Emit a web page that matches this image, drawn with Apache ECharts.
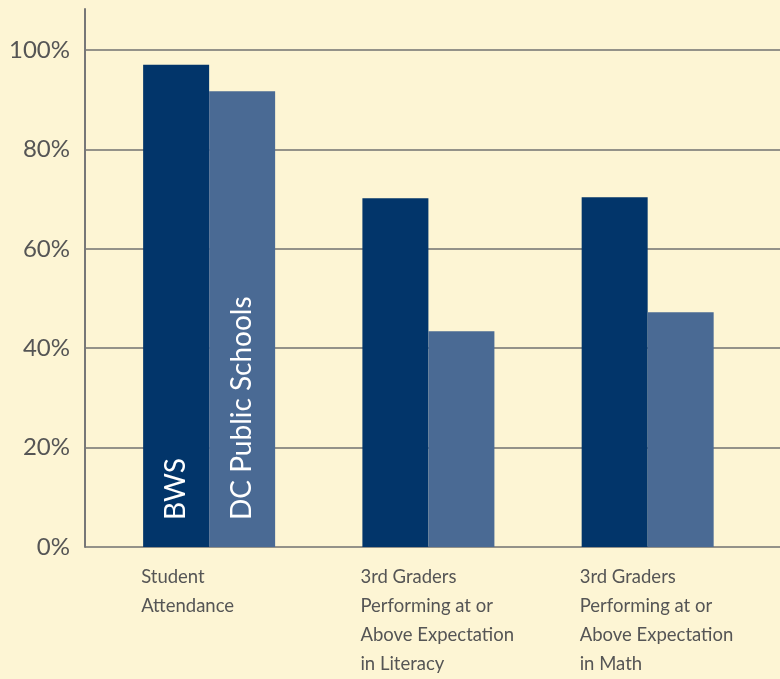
<!DOCTYPE html>
<html>
<head>
<meta charset="utf-8">
<script src="https://cdn.jsdelivr.net/npm/echarts@6/dist/echarts.min.js"></script>
<style>
html,body{margin:0;padding:0;background:#fdf5d4;}
#c{width:780px;height:679px;}
</style>
</head>
<body>
<div id="c"></div>
<script>
const categories = ['Student\nAttendance', '3rd Graders\nPerforming at or\nAbove Expectation\nin Literacy', '3rd Graders\nPerforming at or\nAbove Expectation\nin Math'];
const seriesNames = ['BWS', 'DC Public Schools'];
const bwsValues = [96.8, 70.0, 70.2];
const dcValues = [91.5, 43.3, 47.1];
const yTicks = [0, 20, 40, 60, 80, 100];

(function () {
const chart = echarts.init(document.getElementById('c'));
const font = 'Lato, "Open Sans", sans-serif';
const gTop = 9, gBottom = 132;
// 100% line sits at y = 50
const labelStyle = {color: '#fff', fontFamily: font, fontSize: 28};
chart.setOption({
  backgroundColor: '#fdf5d4',
  animation: false,
  grid: [
    {left: 85, right: 0, top: 50, bottom: gBottom},
    {left: 99.5, right: 22.7, top: gTop, bottom: gBottom},
    {left: 31.5, right: 90.7, top: gTop, bottom: gBottom},
    {left: 85, right: 0, top: gTop, bottom: gBottom}
  ],
  xAxis: [
    {type: 'category', gridIndex: 0, data: categories, show: false},
    {type: 'category', gridIndex: 1, data: categories, show: false},
    {type: 'category', gridIndex: 2, data: categories,
     axisLine: {show: false}, axisTick: {show: false},
     axisLabel: {align: 'left', margin: 29, padding: [4, 0, 0, 0], color: '#555', fontFamily: font, fontSize: 18.5, lineHeight: 29, interval: 0}},
    {type: 'category', gridIndex: 3, data: categories, show: false}
  ],
  yAxis: [
    {type: 'value', gridIndex: 0, min: 0, max: 100, interval: 20,
     axisLine: {show: false},
     axisTick: {show: false},
     splitLine: {show: true, lineStyle: {color: '#707070', width: 1.5}},
     axisLabel: {margin: 15, color: '#555', fontFamily: font, fontSize: 24, padding: [0, 0, 16, 0],
       formatter: v => yTicks.includes(v) ? v + '%' : ''}},
    {type: 'value', gridIndex: 1, min: 0, max: 108, show: false},
    {type: 'value', gridIndex: 2, min: 0, max: 108, show: false},
    {type: 'value', gridIndex: 3, min: 0, max: 108,
     axisLine: {show: true, lineStyle: {color: '#777', width: 2}},
     axisTick: {show: false}, axisLabel: {show: false}, splitLine: {show: false}}
  ],
  series: [
    {name: seriesNames[0], type: 'bar', xAxisIndex: 1, yAxisIndex: 1, data: bwsValues,
     barWidth: 66, barGap: '0%', itemStyle: {color: '#02356a'},
     label: Object.assign({show: true, position: 'insideBottom', distance: 27, rotate: 90, align: 'left', verticalAlign: 'middle',
       formatter: p => p.dataIndex === 0 ? p.seriesName : ''}, labelStyle)},
    {name: seriesNames[1], type: 'bar', xAxisIndex: 1, yAxisIndex: 1, data: dcValues,
     barWidth: 66, barGap: '0%', itemStyle: {color: '#4a6a94'},
     label: Object.assign({show: true, position: 'insideBottom', distance: 27, rotate: 90, align: 'left', verticalAlign: 'middle',
       formatter: p => p.dataIndex === 0 ? p.seriesName : ''}, labelStyle)}
  ]
});
})();
</script>
</body>
</html>
